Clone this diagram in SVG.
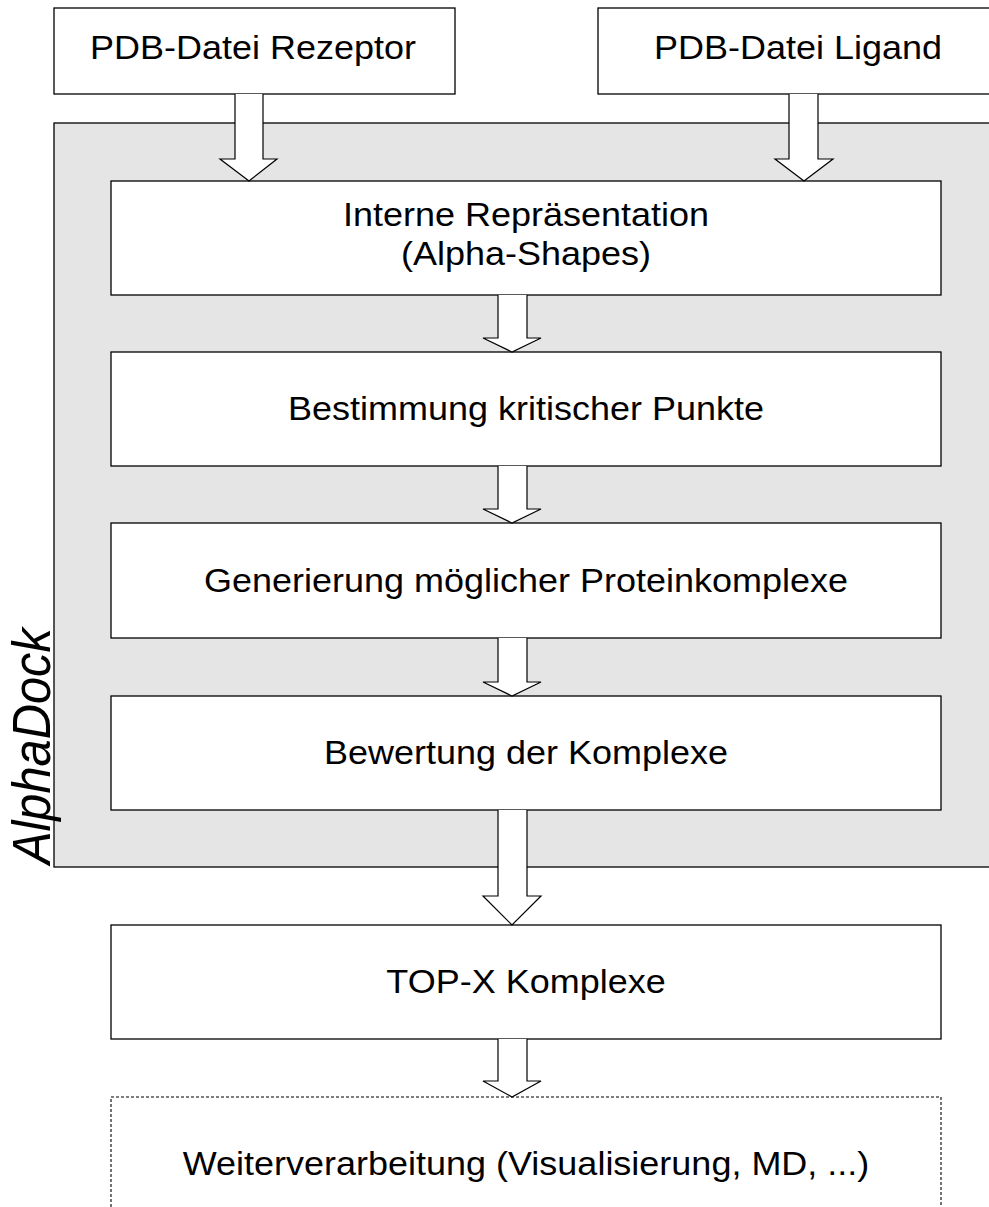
<svg xmlns="http://www.w3.org/2000/svg" width="989" height="1207" viewBox="0 0 989 1207">
<style>
.box{fill:#ffffff;stroke:#000000;stroke-width:1.3}
.cont{fill:#e5e5e5;stroke:#000000;stroke-width:1.3}
.dash{fill:#ffffff;stroke:#000000;stroke-width:1.1;stroke-dasharray:3 2}
.arr{fill:#ffffff;stroke:#000000;stroke-width:1.2;stroke-linejoin:miter}
text{font-family:"Liberation Sans",Arial,Helvetica,sans-serif;font-size:36px;fill:#000000;text-anchor:middle}
.lab{font-size:53.6px;font-style:italic;text-anchor:start}
</style>
<rect width="989" height="1207" fill="#ffffff"/>
<g id="alphadock">
<rect class="cont" x="54" y="123" width="960" height="744"/>
<text class="lab" transform="matrix(0 -0.91 1 0 50 864)">AlphaDock</text>
</g>
<g id="rezeptor">
<rect class="box" x="54" y="8" width="401" height="86"/>
<text transform="matrix(1 0 0 0.9 253 59)">PDB-Datei Rezeptor</text>
</g>
<g id="ligand">
<rect class="box" x="598" y="8" width="420" height="86"/>
<text transform="matrix(1 0 0 0.9 798 59)">PDB-Datei Ligand</text>
</g>
<g id="repraesentation">
<rect class="box" x="111" y="181" width="830" height="114"/>
<text transform="matrix(1 0 0 0.9 526 226)">Interne Repräsentation</text>
<text transform="matrix(1 0 0 0.9 526 265)">(Alpha-Shapes)</text>
</g>
<g id="kritisch">
<rect class="box" x="111" y="352" width="830" height="114"/>
<text transform="matrix(1 0 0 0.9 526 420)">Bestimmung kritischer Punkte</text>
</g>
<g id="generierung">
<rect class="box" x="111" y="523" width="830" height="115"/>
<text transform="matrix(1 0 0 0.9 526 592)">Generierung möglicher Proteinkomplexe</text>
</g>
<g id="bewertung">
<rect class="box" x="111" y="696" width="830" height="114"/>
<text transform="matrix(1 0 0 0.9 526 764)">Bewertung der Komplexe</text>
</g>
<g id="topx">
<rect class="box" x="111" y="925" width="830" height="114"/>
<text transform="matrix(1 0 0 0.9 526 993)">TOP-X Komplexe</text>
</g>
<g id="weiter">
<rect class="dash" x="111" y="1097" width="830" height="130"/>
<text transform="matrix(1 0 0 0.9 526 1175)">Weiterverarbeitung (Visualisierung, MD, ...)</text>
</g>
<g id="connectors">
<path class="arr" d="M235,94 V159 H220 L249,181 L277,159 H263 V94"/>
<path class="arr" d="M789,94 V159 H775 L804,181 L833,159 H818 V94"/>
<path class="arr" d="M498,295 V338 H483 L512,352 L541,338 H527 V295"/>
<path class="arr" d="M498,466 V509 H483 L512,523 L541,509 H527 V466"/>
<path class="arr" d="M498,638 V682 H483 L512,696 L541,682 H527 V638"/>
<path class="arr" d="M498,810 V896 H483 L512,925 L541,896 H527 V810"/>
<path class="arr" d="M498,1039 V1081 H483 L512,1097 L541,1081 H527 V1039"/>
</g>
</svg>
